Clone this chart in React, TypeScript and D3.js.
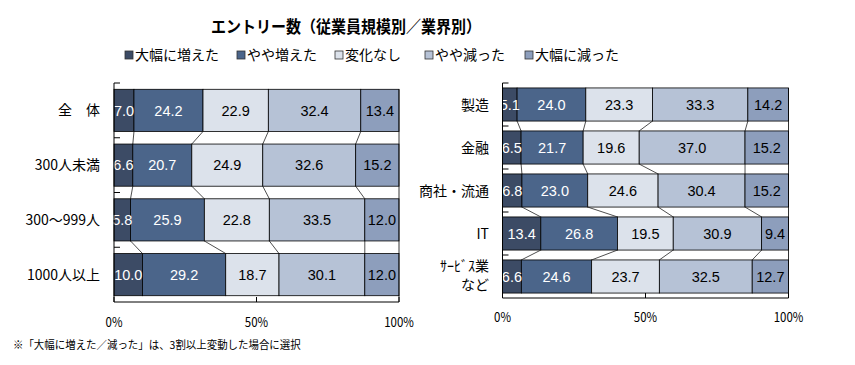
import React from 'react'
import * as d3 from 'd3'

const seriesNames = ['大幅に増えた', 'やや増えた', '変化なし', 'やや減った', '大幅に減った']
const seriesColors = ['#3c4b65', '#4b658a', '#dce2eb', '#b6c2d6', '#8d9ebc']
const labelColors = ['#fff', '#fff', '#000', '#000', '#000']

const sizeCats = ['全　体', '300人未満', '300～999人', '1000人以上']
const sizeValues = [
  [7.0, 24.2, 22.9, 32.4, 13.4],
  [6.6, 20.7, 24.9, 32.6, 15.2],
  [5.8, 25.9, 22.8, 33.5, 12.0],
  [10.0, 29.2, 18.7, 30.1, 12.0],
]

const industryCats = ['製造', '金融', '商社・流通', 'IT', 'ｻｰﾋﾞｽ業\nなど']
const industryValues = [
  [5.1, 24.0, 23.3, 33.3, 14.2],
  [6.5, 21.7, 19.6, 37.0, 15.2],
  [6.8, 23.0, 24.6, 30.4, 15.2],
  [13.4, 26.8, 19.5, 30.9, 9.4],
  [6.6, 24.6, 23.7, 32.5, 12.7],
]

const xTicks = [0, 0.5, 1]

const jp = '"Noto Sans CJK JP", sans-serif'
const num = '"Liberation Sans", Arial, sans-serif'

const StackedChart = ({ cats, values, x0, x1, y0, y1, labelRight, tickLabelY }) => {
  const rows = values.map((v, i) => {
    const o = { cat: cats[i] }
    v.forEach((d, j) => (o['s' + j] = d))
    return o
  })
  const keys = seriesNames.map((_, j) => 's' + j)
  const stacked = d3.stack().keys(keys).offset(d3.stackOffsetExpand)(rows)

  const x = d3.scaleLinear().domain([0, 1]).range([x0, x1])
  const y = d3.scaleBand().domain(cats).range([y0, y1]).paddingInner(0.23).paddingOuter(0.115)
  const bw = y.bandwidth()
  const step = y.step()

  // series lines between consecutive bars
  const seriesLines = []
  for (let k = 0; k < keys.length - 1; k++) {
    for (let i = 0; i < cats.length - 1; i++) {
      seriesLines.push({
        key: `sl-${k}-${i}`,
        x1: x(stacked[k][i][1]),
        y1: y(cats[i]) + bw,
        x2: x(stacked[k][i + 1][1]),
        y2: y(cats[i + 1]),
      })
    }
  }

  return (
    <g>
      {stacked.map((layer, k) =>
        layer.map((d, i) => (
          <rect
            key={`r-${k}-${i}`}
            x={x(d[0])}
            y={y(cats[i])}
            width={x(d[1]) - x(d[0])}
            height={bw}
            fill={seriesColors[k]}
            stroke="#000"
            strokeWidth={0.8}
          />
        ))
      )}
      {seriesLines.map((l) => (
        <line key={l.key} x1={l.x1} y1={l.y1} x2={l.x2} y2={l.y2} stroke="#222" strokeWidth={0.8} />
      ))}
      {stacked.map((layer, k) =>
        layer.map((d, i) => (
          <text
            key={`t-${k}-${i}`}
            x={(x(d[0]) + x(d[1])) / 2}
            y={y(cats[i]) + bw / 2}
            dy="0.36em"
            textAnchor="middle"
            fontFamily={num}
            fontSize={14.5}
            fill={labelColors[k]}
          >
            {values[i][k].toFixed(1)}
          </text>
        ))
      )}
      {/* right edge line */}
      <line x1={x1} y1={y(cats[0])} x2={x1} y2={y1} stroke="#000" strokeWidth={0.8} />
      {/* left axis */}
      <line x1={x0} y1={y0} x2={x0} y2={y1} stroke="#000" strokeWidth={1} />
      {cats.map((c, i) => (
        <line key={`yt-${i}`} x1={x0} x2={x0 + 6} y1={y0 + step * i} y2={y0 + step * i} stroke="#000" strokeWidth={1} />
      ))}
      {/* bottom axis */}
      <line x1={x0} y1={y1} x2={x1} y2={y1} stroke="#000" strokeWidth={1} />
      {xTicks.map((t) => (
        <g key={`xt-${t}`}>
          <line x1={x(t)} x2={x(t)} y1={y1} y2={y1 - 5} stroke="#000" strokeWidth={1} />
          <text x={x(t)} y={tickLabelY} textAnchor="middle" fontFamily={jp} fontSize={13.5} fill="#000" transform={`translate(${x(t)},0) scale(0.85,1) translate(${-x(t)},0)`}>
            {d3.format('.0%')(t)}
          </text>
        </g>
      ))}
      {cats.map((c) => {
        const lines = c.split('\n')
        const cy = y(c) + bw / 2
        const offsets = lines.length === 1 ? [0] : [-11, 8]
        return (
          <g key={`cl-${c}`}>
            {lines.map((ln, j) => (
              <text key={j} x={labelRight} y={cy + offsets[j]} dy="0.36em" textAnchor="end" fontFamily={jp} fontSize={14} fill="#000">
                {ln}
              </text>
            ))}
          </g>
        )
      })}
    </g>
  )
}

const legendX = [125, 237, 335, 425, 525]

export default function App() {
  return (
    <svg width={855} height={365} style={{ position: 'absolute', left: 0, top: 0, background: '#fff' }}>
      <rect width={855} height={365} fill="#fff" />
      <text x={346} y={27} dy="0.36em" textAnchor="middle" fontFamily={jp} fontSize={16.5} fontWeight="bold" fill="#000" transform="translate(346,0) scale(0.91,1) translate(-346,0)">
        エントリー数（従業員規模別／業界別）
      </text>
      {seriesNames.map((s, i) => (
        <g key={s} transform={`translate(${legendX[i]},55)`}>
          <rect x={0} y={-4} width={8} height={8} fill={seriesColors[i]} stroke="#333" strokeWidth={0.8} />
          <text x={10} y={0} dy="0.36em" fontFamily={jp} fontSize={14} fill="#000">
            {s}
          </text>
        </g>
      ))}
      <StackedChart cats={sizeCats} values={sizeValues} x0={114} x1={399} y0={83} y1={302} labelRight={100} tickLabelY={327} />
      <StackedChart cats={industryCats} values={industryValues} x0={502.5} x1={788.5} y0={83} y1={298} labelRight={489} tickLabelY={322} />
      <text x={13} y={345} dy="0.36em" fontFamily={jp} fontSize={11} fill="#000" transform="translate(13,0) scale(0.95,1) translate(-13,0)">
        ※「大幅に増えた／減った」は、3割以上変動した場合に選択
      </text>
    </svg>
  )
}
